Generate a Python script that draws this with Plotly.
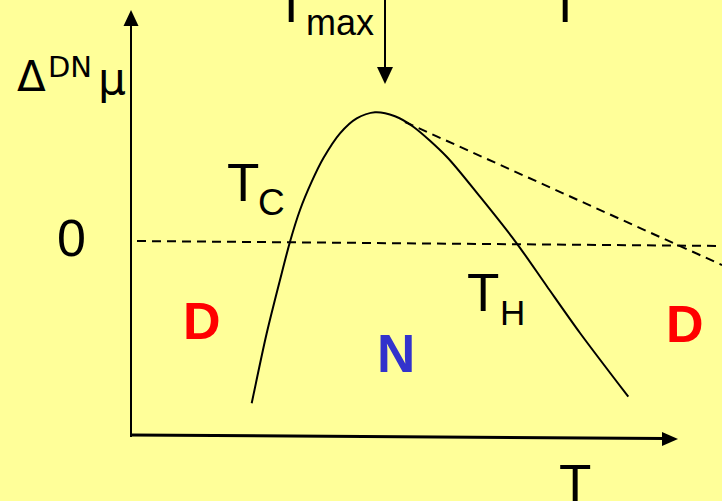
import plotly.graph_objects as go

# ---- data (T measured from the vertical axis, Δμ measured from the zero line) ----
curve_T = [120.7, 135.7, 149.0, 159.0, 169.0, 180.7, 192.3, 209.0, 225.7, 244.0, 264.0, 282.3, 315.7, 349.0, 385.7, 415.7, 449.0, 497.3]
curve_dmu = [-162.3, -92.3, -39.0, -0.7, 31.0, 59.3, 82.7, 107.7, 122.7, 128.7, 124.8, 114.3, 84.3, 44.3, -2.3, -45.0, -92.0, -155.7]

zero_T = [6, 591]
zero_dmu = [0, -5]

tangent_T = [274, 591]
tangent_dmu = [119, -24]

FONT = "Liberation Sans, Arial, sans-serif"
BG = "#FFFF99"

fig = go.Figure()

fig.add_trace(go.Scatter(x=zero_T, y=zero_dmu, mode="lines",
                         line=dict(color="black", width=2, dash="9px,6px"),
                         hoverinfo="skip", showlegend=False))
fig.add_trace(go.Scatter(x=tangent_T, y=tangent_dmu, mode="lines",
                         line=dict(color="black", width=2, dash="9px,6px"),
                         hoverinfo="skip", showlegend=False))
fig.add_trace(go.Scatter(x=curve_T, y=curve_dmu, mode="lines",
                         line=dict(color="black", width=2, shape="spline", smoothing=0.8),
                         hoverinfo="skip", showlegend=False))

shapes = [
    # vertical axis
    dict(type="line", x0=0, y0=-196, x1=0, y1=217, line=dict(color="black", width=2)),
    dict(type="path", path="M 0,231 L -7.5,215 L 7.5,215 Z", fillcolor="black", line=dict(width=0)),
    # horizontal axis
    dict(type="line", x0=0, y0=-194, x1=533, y1=-197.5, line=dict(color="black", width=3)),
    dict(type="path", path="M 547,-198 L 531,-191 L 531,-205 Z", fillcolor="black", line=dict(width=0)),
    # T_max arrow
    dict(type="line", x0=254, y0=243, x1=254, y1=171, line=dict(color="black", width=2)),
    dict(type="path", path="M 254,157 L 246,174 L 262,174 Z", fillcolor="black", line=dict(width=0)),
]


def txt(x, y, s, size, color="black", bold=False, family=FONT):
    return dict(x=x, y=y, xref="x", yref="y", text=s, showarrow=False,
                xanchor="center", yanchor="middle",
                font=dict(family=family, size=size, color=color,
                          weight="bold" if bold else "normal"))


annotations = [
    txt(-59.5, 3.5, "0", 52),
    txt(-100, 164.5, "Δ", 42, family="DejaVu Sans, " + FONT),
    txt(-61, 174, "DN", 29, family="DejaVu Sans, " + FONT),
    txt(-19, 163, "μ", 44, family="DejaVu Sans, " + FONT),
    txt(111.5, 58.5, "T", 53),
    txt(140.5, 38.5, "C", 37),
    txt(352, -51.5, "T", 53),
    txt(381.5, -71.5, "H", 35),
    txt(160, 238, "T", 53),
    txt(208.5, 218.5, "max", 36),
    txt(433.5, 238, "T", 53),
    txt(444, -242, "T", 53),
    txt(70.5, -80, "D", 52, color="#FF0000", bold=True),
    txt(554, -82.5, "D", 52, color="#FF0000", bold=True),
    txt(265, -112, "N", 53, color="#3333CC", bold=True),
]

fig.update_layout(
    width=722, height=501,
    margin=dict(l=0, r=0, t=0, b=0),
    paper_bgcolor=BG, plot_bgcolor=BG,
    xaxis=dict(range=[-131, 591], visible=False, fixedrange=True),
    yaxis=dict(range=[-260, 241], visible=False, fixedrange=True),
    shapes=shapes, annotations=annotations,
    showlegend=False,
)

fig.write_html("out.html", config={"displayModeBar": False},
               post_script="document.body.style.margin='0';document.body.style.background='#FFFF99';")
